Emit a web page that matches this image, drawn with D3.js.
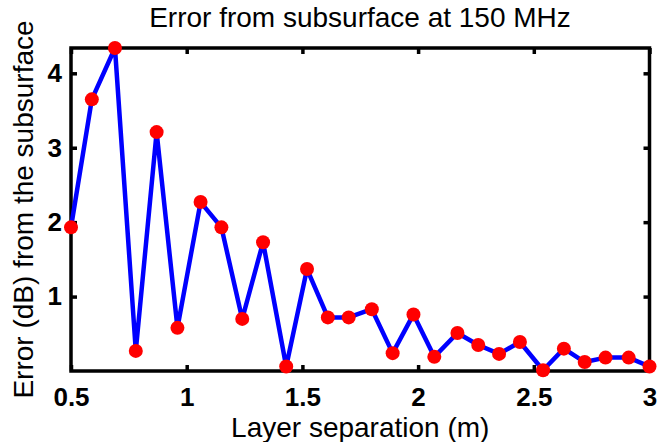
<!DOCTYPE html>
<html><head><meta charset="utf-8">
<script src="https://cdn.jsdelivr.net/npm/d3@7"></script>
<style>body{margin:0;background:#fff}svg{display:block}</style>
</head><body>
<svg id="c" width="660" height="442"></svg>
<script>
const separation = [0.50,0.59,0.69,0.78,0.87,0.96,1.06,1.15,1.24,1.33,1.43,1.52,1.61,1.70,1.80,1.89,1.98,2.07,2.17,2.26,2.35,2.44,2.54,2.63,2.72,2.81,2.91,3.00];
const errorDb = [1.93,3.65,4.34,0.27,3.21,0.58,2.27,1.93,0.70,1.73,0.06,1.37,0.72,0.72,0.83,0.24,0.76,0.19,0.51,0.35,0.23,0.39,0.01,0.30,0.12,0.18,0.18,0.06];
const xTicks = [0.5,1,1.5,2,2.5,3];
const xTickLabels = ["0.5","1","1.5","2","2.5","3"];
const yTicks = [1,2,3,4];
const yTickLabels = ["1","2","3","4"];
const titleText = "Error from subsurface at 150 MHz";
const xLabel = "Layer separation (m)";
const yLabel = "Error (dB) from the subsurface";

const m = {l:71, r:649.5, t:48, b:371};
const svg = d3.select("#c");
const x = d3.scaleLinear().domain([0.5,3]).range([m.l,m.r]);
const y = d3.scaleLinear().domain([0, d3.max(errorDb)]).range([m.b,m.t]);
const data = separation.map((s,i)=>({x:s,y:errorDb[i]}));

const tl = 6;
const fmtX = (d,i)=>xTickLabels[i];
const fmtY = (d,i)=>yTickLabels[i];
const gB = svg.append("g").attr("transform",`translate(0,${m.b})`)
  .call(d3.axisBottom(x).tickValues(xTicks).tickFormat(fmtX).tickSizeInner(-tl).tickSizeOuter(0).tickPadding(17));
const gT = svg.append("g").attr("transform",`translate(0,${m.t})`)
  .call(d3.axisTop(x).tickValues(xTicks).tickFormat("").tickSizeInner(-tl).tickSizeOuter(0));
const gL = svg.append("g").attr("transform",`translate(${m.l},0)`)
  .call(d3.axisLeft(y).tickValues(yTicks).tickFormat(fmtY).tickSizeInner(-tl).tickSizeOuter(0).tickPadding(9));
const gR = svg.append("g").attr("transform",`translate(${m.r},0)`)
  .call(d3.axisRight(y).tickValues(yTicks).tickFormat("").tickSizeInner(-tl).tickSizeOuter(0));
[gB,gT,gL,gR].forEach(g=>{
  g.select(".domain").remove();
  g.selectAll(".tick line").attr("stroke","#000").attr("stroke-width",3.5);
  g.selectAll(".tick text").attr("fill","#000").style("font-family","'Liberation Sans',Arial,sans-serif")
   .style("font-size","26px").style("font-weight","bold");
});
svg.append("rect").attr("x",m.l).attr("y",m.t).attr("width",m.r-m.l).attr("height",m.b-m.t)
  .attr("fill","none").attr("stroke","#000").attr("stroke-width",3.5);

svg.append("path").datum(data)
  .attr("d", d3.line().x(d=>x(d.x)).y(d=>y(d.y)))
  .attr("fill","none").attr("stroke","#0000ff").attr("stroke-width",4.5).attr("stroke-linejoin","round");
svg.append("g").selectAll("circle").data(data).join("circle")
  .attr("cx",d=>x(d.x)).attr("cy",d=>y(d.y)).attr("r",7).attr("fill","#ff0000");

const font = "'Liberation Sans',Arial,sans-serif";
svg.append("text").attr("x",360).attr("y",27).attr("text-anchor","middle")
  .style("font-family",font).style("font-size","28px").text(titleText);
svg.append("text").attr("x",(m.l+m.r)/2).attr("y",437).attr("text-anchor","middle")
  .style("font-family",font).style("font-size","28px").text(xLabel);
svg.append("text").attr("transform",`translate(33,${(m.t+m.b)/2}) rotate(-90)`).attr("text-anchor","middle")
  .style("font-family",font).style("font-size","28px").text(yLabel);
</script>
</body></html>
